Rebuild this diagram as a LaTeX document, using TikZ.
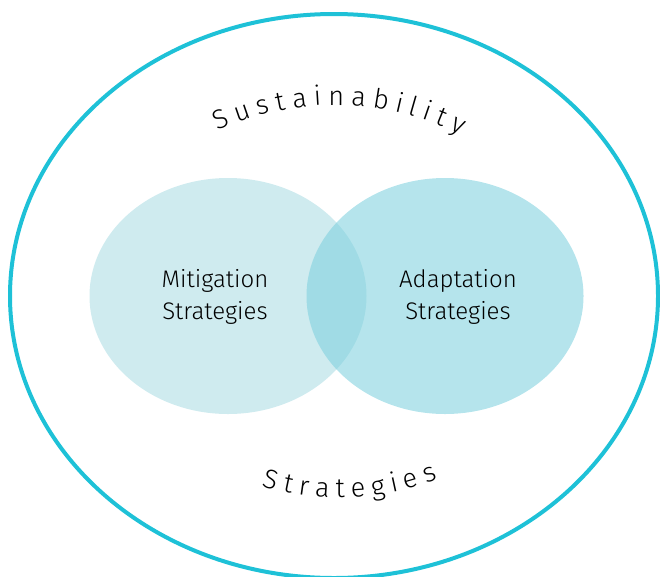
\documentclass[tikz,border=0pt]{standalone}
\usepackage{fontspec}
\setmainfont{Fira Sans}[UprightFont=* Light]
\usetikzlibrary{shapes.geometric,decorations.text}
\definecolor{rimblue}{RGB}{30,193,215}
\definecolor{mitfill}{RGB}{207,235,239}
\definecolor{adaptfill}{RGB}{125,208,222}
\begin{document}
\begin{tikzpicture}[x=1pt,y=1pt]
\useasboundingbox (0,0) rectangle (660,-576);

\node[ellipse, draw=rimblue, line width=4pt, minimum width=648, minimum height=564] (sust) at (334,-296){};

\node[ellipse, fill=mitfill, minimum width=277, minimum height=236] (mit) at (228,-296){};
\node[ellipse, fill=adaptfill, fill opacity=0.57, minimum width=277, minimum height=236] (adapt) at (445,-296){};

\node[align=center, font=\fontsize{24}{32}\selectfont] (mittxt) at (215,-297){Mitigation\\Strategies};
\node[align=center, font=\fontsize{24}{32}\selectfont] (adapttxt) at (458,-297){Adaptation\\Strategies};

\path[decorate, decoration={text along path, text align={fit to path},
  text={|\fontsize{27}{30}\selectfont|Sustainability}}]
  (218,-131) arc[start angle=115, end angle=63, radius=277];
\path[decorate, decoration={text along path, text align={fit to path},
  text={|\fontsize{27}{30}\selectfont|Strategies}}]
  (262,-486) arc[start angle=252.6, end angle=292, radius=261];

\end{tikzpicture}
\end{document}
